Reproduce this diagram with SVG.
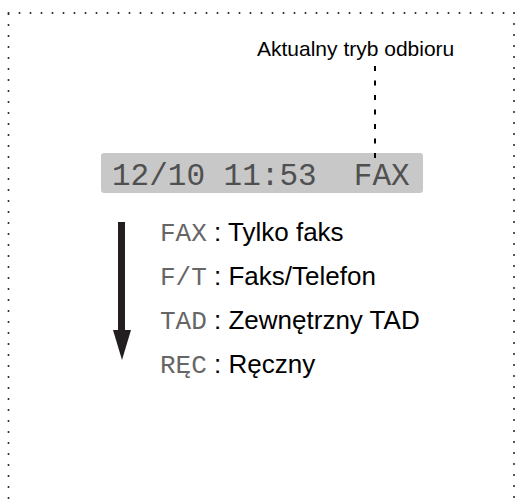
<svg xmlns="http://www.w3.org/2000/svg" width="515" height="502" viewBox="0 0 515 502">
<style>
.frame{fill:none;stroke:#231f20;stroke-width:2;stroke-linecap:round;stroke-dasharray:0 11}
.sans{font-family:"Liberation Sans",Arial,sans-serif;fill:#000}
.mono{font-family:"Liberation Mono","Courier New",monospace;fill:#666}
.lbl{font-size:21px}
.item{font-size:26px}
</style>
<rect width="515" height="502" fill="#fff"/>
<path class="frame" d="M8.5,14 V502 M8.5,13 H514 M514,13 V502"/>
<g id="lcd">
<rect x="101" y="153" width="322" height="40" rx="3" fill="#c8c8c8"/>
<text class="mono" x="112" y="185" font-size="31" style="fill:#505050" xml:space="preserve">12/10 11:53  FAX</text>
</g>
<g id="label">
<text class="sans lbl" x="257" y="55.5">Aktualny tryb odbioru</text>
</g>
<g id="connectors">
<line x1="375" y1="66" x2="375" y2="158" stroke="#000" stroke-width="2" stroke-dasharray="5 9.5"/>
<g id="arrow">
<rect x="118" y="222" width="7" height="110" fill="#231f20"/>
<polygon points="113,330 131,330 122,360" fill="#231f20"/>
</g>
</g>
<g id="modes">
<text x="160" y="240.5"><tspan class="mono item">FAX</tspan><tspan class="sans item"> : Tylko faks</tspan></text>
<text x="160" y="284.5"><tspan class="mono item">F/T</tspan><tspan class="sans item"> : Faks/Telefon</tspan></text>
<text x="160" y="329"><tspan class="mono item">TAD</tspan><tspan class="sans item"> : Zewnętrzny TAD</tspan></text>
<text x="160" y="373"><tspan class="mono item">RĘC</tspan><tspan class="sans item"> : Ręczny</tspan></text>
</g>
</svg>
